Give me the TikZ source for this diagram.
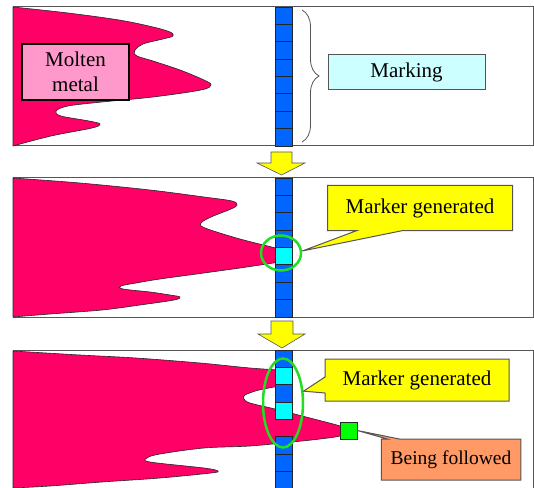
\documentclass[tikz,border=0pt]{standalone}
\usepackage{fontspec}
\setmainfont{Liberation Serif}
\usetikzlibrary{
    shapes.geometric,
    shapes.callouts,
    decorations.pathreplacing,
    backgrounds
}
\definecolor{melt}{HTML}{FF0066}
\definecolor{meltbox}{HTML}{FF99CC}
\definecolor{lane}{HTML}{0066FF}
\definecolor{markbox}{HTML}{CCFFFF}
\definecolor{tracer}{HTML}{00FFFF}
\definecolor{notefill}{HTML}{FFFF00}
\definecolor{followfill}{HTML}{FF9966}
\definecolor{ringgreen}{HTML}{22DD22}
\definecolor{frame}{HTML}{555555}
\tikzset {
    panel/.style = {draw = frame, line width = 1bp},
    melt shape/.style = {fill = melt, draw = black!85, line width = 0.6bp},
    cell/.style = {fill = lane, draw = black!85, line width = 0.8bp},
    marker cell/.style = {fill = tracer, draw = black!85, line width = 0.8bp},
    text box/.style = {
        rectangle, draw = frame, line width = 1bp, inner sep = 0pt,
        font = \rmfamily\fontsize{21bp}{25bp}\selectfont
    },
    callout box/.style = {
        rectangle callout, draw = frame, line width = 1bp, inner sep = 0pt,
        font = \rmfamily\fontsize{21bp}{25bp}\selectfont
    },
    ring/.style = {ellipse, draw = ringgreen, line width = 2.5bp, inner sep = 0pt},
    step arrow/.style = {fill = notefill, draw = frame, line width = 0.6bp}
}
\begin{document}
\begin{tikzpicture}[x = 1bp, y = -1bp]
    \useasboundingbox (0, 0) rectangle (534, 488);
    % frames
    \draw [panel] (13, 7) rectangle (533, 146);
    \draw [panel] (13, 178) rectangle (533, 317);
    \draw [panel] (13, 490) -- (13, 350) -- (533, 350) -- (533, 490);
    % melt fronts
    \draw [melt shape] plot [smooth, tension = 0.55] coordinates {
        (13, 7) (68, 13) (119, 20) (153, 27) (170, 32) (173, 36) (163, 39)
        (143, 44) (134.5, 51) (137, 56) (153, 61) (180, 70) (204, 80)
        (211, 85) (201, 90) (153, 97) (102, 102) (68, 106) (56, 111)
        (61, 116) (89, 121) (100, 124) (92, 128) (51, 136) (13, 146)
    } -- cycle;
    \draw [melt shape] plot [smooth, tension = 0.55] coordinates {
        (13, 178) (80, 183) (150, 190) (204, 197) (232, 201) (237, 205)
        (231, 209) (211, 217) (201, 223) (205, 228) (240, 239) (280, 249)
    } -- (280, 262) -- plot [smooth, tension = 0.55] coordinates {
        (280, 262) (240, 268) (204, 273) (160, 279) (136, 283) (121, 286)
        (123, 289) (150, 292) (170, 295) (180, 297) (174, 300) (140, 305)
        (102, 310) (50, 314) (13, 317)
    } -- cycle;
    \draw [melt shape] plot [smooth, tension = 0.55] coordinates {
        (13, 351) (80, 355) (136, 358) (200, 363) (250, 368) (280, 370)
    } -- (280, 386) -- plot [smooth, tension = 0.55] coordinates {
        (280, 386) (259, 390) (245, 395) (244, 399) (250, 403) (275, 409)
        (310, 418) (340, 426) (349, 431) (340, 436) (320, 439) (292, 442)
        (250, 446) (204, 448) (160, 454) (147, 458) (150, 462) (204, 468)
        (218, 471) (211, 473) (160, 478) (102, 482) (50, 486) (13, 488)
    } -- cycle;
    % marking lanes
    \foreach \i in {0, ..., 7} {
        \draw [cell] (275, {7 + \i * 17.375}) rectangle ++(17, 17.375);
        \draw [cell] (275, {178 + \i * 17.375}) rectangle ++(17, 17.375);
    }
    \foreach \i in {0, 1, 2, 3, 5, 6, 7}
        \draw [cell] (275, {350 + \i * 17.375}) rectangle ++(17, 17.375);
    \draw [marker cell] (275, {178 + 4 * 17.375}) rectangle ++(17, 17.375);
    \draw [marker cell] (275, {350 + 1 * 17.375}) rectangle ++(17, 17.375);
    \draw [marker cell] (275, {350 + 3 * 17.375}) rectangle ++(17, 17.375);
    % step arrows
    \draw [step arrow] (271, 152) -- (292, 152) -- (292, 163) -- (305, 163)
        -- (281.5, 175) -- (257, 163) -- (271, 163) -- cycle;
    \draw [step arrow] (271, 321) -- (293, 321) -- (293, 334) -- (305, 334)
        -- (282, 348) -- (258, 334) -- (271, 334) -- cycle;
    % labels of the first step
    \node [text box, fill = meltbox, draw = black, line width = 2bp,
        minimum width = 107bp, minimum height = 56bp, align = center]
        (molten) at (75.5, 72) {Molten\\metal};
    \draw [frame, line width = 0.8bp, decorate,
        decoration = {brace, amplitude = 17bp}] (302, 10) -- (302, 142);
    \node [text box, fill = markbox, minimum width = 157bp,
        minimum height = 35.5bp] (marking) at (406.5, 72) {Marking};
    % markers
    \node [ring, minimum width = 40bp, minimum height = 35bp]
        (ring1) at (281, 253) {};
    \node [ring, minimum width = 40bp, minimum height = 89bp]
        (ring2) at (283, 403) {};
    \node [draw = black!85, fill = green, line width = 0.8bp,
        minimum size = 17bp, inner sep = 0pt] (front) at (348.5, 430.5) {};
    \node [text box, draw = none, minimum width = 184bp,
        minimum height = 44bp] (gen1) at (420, 208) {Marker generated};
    \begin{scope}[on background layer]
        \draw [frame, fill = notefill, line width = 1bp]
            (gen1.north west) -- (gen1.north east) -- (gen1.south east)
            -- ([xshift = -17bp] gen1.south) -- ([yshift = 2bp] ring1.east)
            -- ([xshift = -63bp] gen1.south) -- (gen1.south west) -- cycle;
    \end{scope}
    \node [callout box, fill = notefill, minimum width = 184bp,
        minimum height = 42bp, callout pointer width = 16bp,
        callout absolute pointer = {(ring2.30)}]
        (gen2) at (417, 380) {Marker generated};
    \node [callout box, fill = followfill, minimum width = 139.5bp,
        minimum height = 41bp, callout pointer width = 12bp,
        font = \rmfamily\fontsize{19.5bp}{23bp}\selectfont,
        callout absolute pointer = {(front.east)}]
        (follow) at (451, 459.5) {Being followed};
\end{tikzpicture}
\end{document}
